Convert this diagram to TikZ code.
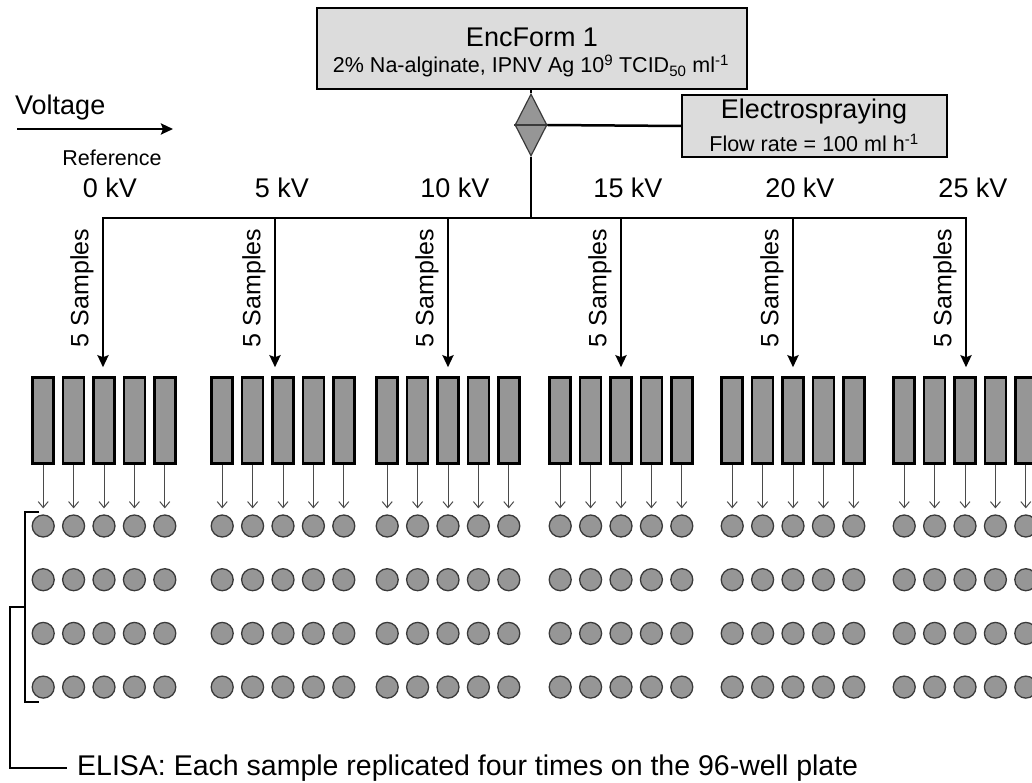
\documentclass[tikz,border=0pt]{standalone}
\usepackage{fontspec}
\setmainfont{Liberation Sans}
\usetikzlibrary{shapes.geometric,arrows.meta,positioning,calc}

\definecolor{boxgray}{HTML}{DCDCDC}
\definecolor{tubegray}{HTML}{969696}
\definecolor{rimgray}{HTML}{3A3A3A}
\definecolor{dripgray}{HTML}{4A4A4A}

\begin{document}
\begin{tikzpicture}[x=1pt, y=-1pt,
        box/.style={rectangle, draw=black, line width=2.5pt, fill=boxgray},
        big/.style={font=\fontsize{27}{31}\selectfont, inner sep=0pt},
        small/.style={font=\fontsize{21.5}{25}\selectfont, inner sep=0pt},
        samplelabel/.style={font=\fontsize{25}{29}\selectfont, rotate=90, inner sep=0pt},
        pipe/.style={line width=2.5pt},
        arrow/.style={line width=2.5pt, -{Stealth[length=12pt, width=11pt, inset=2pt]}},
        drip/.style={line width=1pt, draw=dripgray, -{Straight Barb[length=6pt, width=10pt]}},
        tube/.style={rectangle, draw=black, line width=2.5pt, fill=tubegray, minimum width=21pt, minimum height=86pt, inner sep=0pt},
        well/.style={circle, draw=rimgray, line width=1.3pt, fill=tubegray, minimum size=22pt, inner sep=0pt},
      ]
      \useasboundingbox (0,0) rectangle (1032,783);
      \clip (0,0) rectangle (1032,783);
      % formulation and electrospraying
      \node [box, minimum width=430pt, minimum height=81pt] (encform) at (532,48.5) {};
      \node [big] (enctitle) at (532,37) {EncForm 1};
      \node [small] (encsub) at (531,66) {2\% Na-alginate, IPNV Ag 10\textsuperscript{9} TCID\textsubscript{50} ml\textsuperscript{-1}};
      \node [diamond, draw=rimgray, line width=1.2pt, fill=tubegray, minimum width=32pt, minimum height=62pt, inner sep=0pt] (valve) at (531,125) {};
      \node [box, minimum width=265pt, minimum height=62pt] (spray) at (814.5,126) {};
      \node [big] (spraytitle) at (814,112) {Electrospraying};
      \node [small] (spraysub) at (814,143) {Flow rate = 100 ml h\textsuperscript{-1}};
      \draw [pipe] (valve.north |- encform.south) -- (valve.north);
      \draw [line width=1.2pt, rimgray] (valve.west) -- (valve.east);
      \draw [pipe] (valve.east) -- (spray.west);
      % voltage
      \node [big, anchor=west] (voltage) at (15,108) {Voltage};
      \coordinate (vstart) at (17,129);
      \coordinate (vend) at (173,129);
      \draw [arrow] (vstart) -- (vend);
      \node [small] (reference) at (112,158) {Reference};
      % bus and drops
      \foreach \x [count=\i] in {103,275,448,621,793,966}
        \coordinate (d\i) at (\x,218);
      \draw [pipe] (valve.south) -- (valve.south |- d1);
      \draw [pipe, line cap=rect] (d1) -- (d6);
      \foreach \t [count=\i] in {0 kV,5 kV,10 kV,15 kV,20 kV,25 kV}
        \node [big] (kv\i) at ($(d\i)+(7,-30)$) {\t};
      % tubes and plate wells
      \foreach \c [count=\g] in {104,283,448,621,793,965} {
        \foreach \k in {1,...,5} {
          \node [tube] (t\g-\k) at ({\c+(\k-3)*30.4},420.5) {};
          \foreach \r in {1,...,4}
            \node [well] (w\g-\k-\r) at ({\c+(\k-3)*30.4},{526+(\r-1)*53.7}) {};
          \draw [drip, shorten >=6pt] (t\g-\k.south) -- (w\g-\k-1.north);
        }
        \draw [arrow, shorten >=9pt] (d\g) -- (d\g |- t\g-3.north);
        \node [samplelabel] (s\g) at ($(d\g)+(-21,70)$) {5 Samples};
      }
      % ELISA bracket
      \node [font=\fontsize{28.5}{32}\selectfont, anchor=west, inner xsep=10pt, inner ysep=0pt] (elisa) at (67,768) {ELISA: Each sample replicated four times on the 96-well plate};
      \draw [pipe] (39,512) -- (25,512) -- (25,702) -- (39,702);
      \draw [pipe] (25,607) -- (10,607) -- (10,768) -- (elisa.west);
    \end{tikzpicture}
\end{document}
